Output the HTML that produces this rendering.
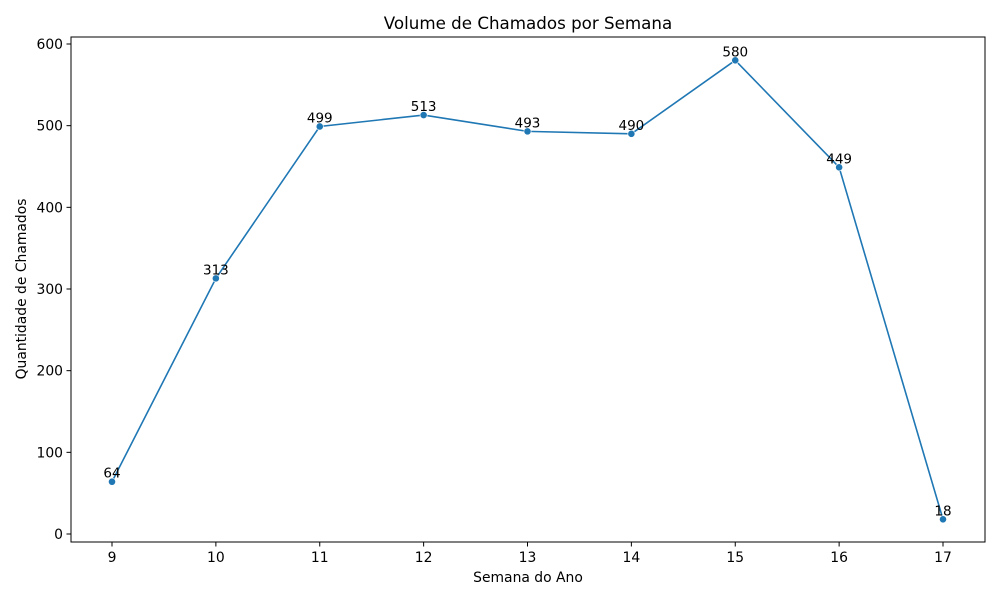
<!DOCTYPE html>
<html><head><meta charset="utf-8"><style>
html,body{margin:0;padding:0;background:#fff;}
svg{display:block;font-family:"DejaVu Sans","Liberation Sans",sans-serif;}
</style></head><body>
<svg id="chart" width="1000" height="600" viewBox="0 0 1000 600" xmlns="http://www.w3.org/2000/svg">
<rect width="1000" height="600" fill="#fff"/>
<text x="528" y="29" text-anchor="middle" font-size="16.7" fill="#000">Volume de Chamados por Semana</text>
<rect x="71" y="37" width="914" height="505" fill="none" stroke="#000" stroke-width="1"/>
<g id="xticks"></g>
<g id="yticks"></g>
<g id="series"></g>
<text x="528" y="582" text-anchor="middle" font-size="13.9" fill="#000">Semana do Ano</text>
<text transform="translate(26,289) rotate(-90)" text-anchor="middle" font-size="13.9" fill="#000">Quantidade de Chamados</text>
</svg>
<script>
const weeks = [9,10,11,12,13,14,15,16,17];
const counts = [64,313,499,513,493,490,580,449,18];
const yTickValues = [0,100,200,300,400,500,600];
const xTickValues = [9,10,11,12,13,14,15,16,17];

const NS = "http://www.w3.org/2000/svg";
function xScale(v){ return 112 + (v - 9) * (943 - 112) / 8; }
function yScale(v){ return 534 - v * (534 - 44) / 600; }
function mk(tag, attrs, parent){
  const e = document.createElementNS(NS, tag);
  for (const k in attrs) e.setAttribute(k, attrs[k]);
  parent.appendChild(e);
  return e;
}
const xg = document.getElementById('xticks');
xTickValues.forEach(v => {
  const x = xScale(v);
  const l = mk('line', {x1:x, x2:x, y1:542, y2:546.5, stroke:'#000', 'stroke-width':1}, xg);
  
  
  const t = mk('text', {x:x, y:562, 'text-anchor':'middle', 'font-size':13.9, fill:'#000'}, xg);
  t.textContent = v;
  
  
});
const yg = document.getElementById('yticks');
yTickValues.forEach(v => {
  const y = yScale(v);
  const l = mk('line', {x1:66.5, x2:71, y1:y, y2:y, stroke:'#000', 'stroke-width':1}, yg);
  
  
  const t = mk('text', {x:63, y:y + 5, 'text-anchor':'end', 'font-size':13.9, fill:'#000'}, yg);
  t.textContent = v;
  
  
});
const sg = document.getElementById('series');
const pts = weeks.map((w, i) => xScale(w) + ',' + yScale(counts[i])).join(' ');
const pl = mk('polyline', {points:pts, fill:'none', stroke:'#1f77b4', 'stroke-width':1.6}, sg);


weeks.forEach((w, i) => {
  const x = xScale(w), y = yScale(counts[i]);
  const c = mk('circle', {cx:x, cy:y, r:3.6, fill:'#1f77b4', stroke:'#fff', 'stroke-width':0.6}, sg);
  
  
  const t = mk('text', {x:x, y:y - 4, 'text-anchor':'middle', 'font-size':13.5, fill:'#000'}, sg);
  t.textContent = counts[i];
  
  
});
</script>
</body></html>
